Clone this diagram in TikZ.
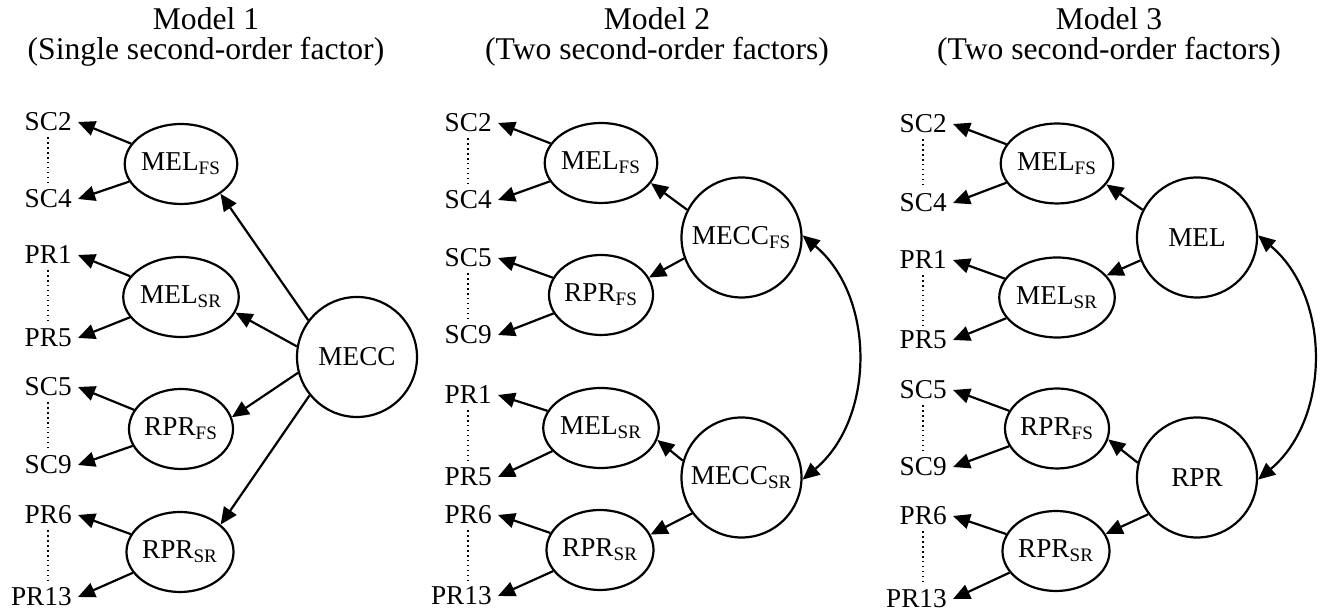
\documentclass[tikz,border=0pt]{standalone}
\usepackage{fontspec}
\setmainfont{Liberation Serif}
\usepackage{tikz}
\usetikzlibrary{shapes.geometric, arrows.meta, positioning, calc}
\tikzset{
  firstnode/.style={ellipse,draw,line width=1.25pt,inner sep=0pt,minimum width=1.76cm,minimum height=1.6cm,font=\fontsize{15.5}{18}\selectfont},
  secondnode/.style={circle,draw,line width=1.25pt,inner sep=0pt,minimum size=2.4cm,font=\fontsize{15.5}{18}\selectfont},
  itemnode/.style={anchor=east,inner sep=0.12cm,font=\fontsize{15.5}{18}\selectfont},
  titlenode/.style={align=center,font=\fontsize{18}{17}\selectfont},
  arr/.style={-{Triangle[length=0.34cm,width=0.3cm]},line width=1.25pt},
  corarr/.style={{Triangle[length=0.34cm,width=0.3cm]}-{Triangle[length=0.34cm,width=0.3cm]},line width=1.25pt},
  dotline/.style={dotted,line width=0.8pt}
}
\begin{document}
\begin{tikzpicture}
  \useasboundingbox (0,0) rectangle (26.44,12.28);
  % Model 1
  \node[titlenode] (t1) at (4.12,11.54) {Model 1\\(Single second-order factor)};
  \node[itemnode] (a1) at (1.56,9.84) {SC2}; \node[itemnode] (a2) at (1.56,8.30) {SC4};
  \node[itemnode] (b1) at (1.56,7.18) {PR1}; \node[itemnode] (b2) at (1.56,5.52) {PR5};
  \node[itemnode] (c1) at (1.56,4.54) {SC5}; \node[itemnode] (c2) at (1.56,2.98) {SC9};
  \node[itemnode] (d1) at (1.56,1.98) {PR6}; \node[itemnode] (d2) at (1.56,0.34) {PR13};
  \node[firstnode] (melfsA) at (3.62,9.00) {MEL\textsubscript{FS}};
  \node[firstnode] (melsrA) at (3.62,6.34) {MEL\textsubscript{SR}};
  \node[firstnode] (rprfsA) at (3.62,3.70) {RPR\textsubscript{FS}};
  \node[firstnode] (rprsrA) at (3.60,1.24) {RPR\textsubscript{SR}};
  \node[secondnode] (mecc) at (7.14,5.14) {MECC};
  \draw[arr] (melfsA) -- (a1.east); \draw[arr] (melfsA) -- (a2.east);
  \draw[arr] (melsrA) -- (b1.east); \draw[arr] (melsrA) -- (b2.east);
  \draw[arr] (rprfsA) -- (c1.east); \draw[arr] (rprfsA) -- (c2.east);
  \draw[arr] (rprsrA) -- (d1.east); \draw[arr] (rprsrA) -- (d2.east);
  \draw[dotline] (a1.south) -- (a1.south |- a2.north); \draw[dotline] (b1.south) -- (b1.south |- b2.north);
  \draw[dotline] (c1.south) -- (c1.south |- c2.north); \draw[dotline] (d1.south) -- (d1.south |- d2.north);
  \draw[arr] (mecc.143) -- (melfsA.-37); \draw[arr] (mecc.170) -- (melsrA.-16);
  \draw[arr] (mecc.195) -- (rprfsA.13); \draw[arr] (mecc.219) -- (rprsrA.34);
  % Model 2
  \node[titlenode] (t2) at (13.14,11.54) {Model 2\\(Two second-order factors)};
  \node[itemnode] (e1) at (9.96,9.82) {SC2}; \node[itemnode] (e2) at (9.96,8.28) {SC4};
  \node[itemnode] (f1) at (9.96,7.12) {SC5}; \node[itemnode] (f2) at (9.96,5.58) {SC9};
  \node[itemnode] (g1) at (9.96,4.38) {PR1}; \node[itemnode] (g2) at (9.96,2.74) {PR5};
  \node[itemnode] (h1) at (9.96,1.98) {PR6}; \node[itemnode] (h2) at (9.96,0.36) {PR13};
  \node[firstnode] (melfsB) at (12.02,9.02) {MEL\textsubscript{FS}};
  \node[firstnode] (rprfsB) at (12.02,6.38) {RPR\textsubscript{FS}};
  \node[firstnode] (melsrB) at (12.02,3.72) {MEL\textsubscript{SR}};
  \node[firstnode] (rprsrB) at (12.00,1.28) {RPR\textsubscript{SR}};
  \node[secondnode] (meccfs) at (14.83,7.53) {MECC\textsubscript{FS}};
  \node[secondnode] (meccsr) at (14.83,2.73) {MECC\textsubscript{SR}};
  \draw[arr] (melfsB) -- (e1.east); \draw[arr] (melfsB) -- (e2.east);
  \draw[arr] (rprfsB) -- (f1.east); \draw[arr] (rprfsB) -- (f2.east);
  \draw[arr] (melsrB) -- (g1.east); \draw[arr] (melsrB) -- (g2.east);
  \draw[arr] (rprsrB) -- (h1.east); \draw[arr] (rprsrB) -- (h2.east);
  \draw[dotline] (e1.south) -- (e1.south |- e2.north); \draw[dotline] (f1.south) -- (f1.south |- f2.north);
  \draw[dotline] (g1.south) -- (g1.south |- g2.north); \draw[dotline] (h1.south) -- (h1.south |- h2.north);
  \draw[arr] (meccfs.153) -- (melfsB.-22); \draw[arr] (meccfs.200) -- (rprfsB.20);
  \draw[arr] (meccsr.164) -- (melsrB.-12); \draw[arr] (meccsr.216) -- (rprsrB.17);
  \draw[corarr] (meccfs.2) to[out=-40,in=40] (meccsr.-2);
  % Model 3
  \node[titlenode] (t3) at (22.18,11.54) {Model 3\\(Two second-order factors)};
  \node[itemnode] (i1) at (19.06,9.80) {SC2}; \node[itemnode] (i2) at (19.06,8.22) {SC4};
  \node[itemnode] (j1) at (19.06,7.08) {PR1}; \node[itemnode] (j2) at (19.06,5.48) {PR5};
  \node[itemnode] (k1) at (19.06,4.48) {SC5}; \node[itemnode] (k2) at (19.06,2.94) {SC9};
  \node[itemnode] (l1) at (19.06,1.96) {PR6}; \node[itemnode] (l2) at (19.06,0.30) {PR13};
  \node[firstnode] (melfsC) at (21.14,9.01) {MEL\textsubscript{FS}};
  \node[firstnode] (melsrC) at (21.14,6.33) {MEL\textsubscript{SR}};
  \node[firstnode] (rprfsC) at (21.14,3.71) {RPR\textsubscript{FS}};
  \node[firstnode] (rprsrC) at (21.12,1.26) {RPR\textsubscript{SR}};
  \node[secondnode] (mel) at (23.94,7.53) {MEL};
  \node[secondnode] (rpr) at (23.94,2.73) {RPR};
  \draw[arr] (melfsC) -- (i1.east); \draw[arr] (melfsC) -- (i2.east);
  \draw[arr] (melsrC) -- (j1.east); \draw[arr] (melsrC) -- (j2.east);
  \draw[arr] (rprfsC) -- (k1.east); \draw[arr] (rprfsC) -- (k2.east);
  \draw[arr] (rprsrC) -- (l1.east); \draw[arr] (rprsrC) -- (l2.east);
  \draw[dotline] (i1.south) -- (i1.south |- i2.north); \draw[dotline] (j1.south) -- (j1.south |- j2.north);
  \draw[dotline] (k1.south) -- (k1.south |- k2.north); \draw[dotline] (l1.south) -- (l1.south |- l2.north);
  \draw[arr] (mel.153) -- (melfsC.-23); \draw[arr] (mel.202) -- (melsrC.24);
  \draw[arr] (rpr.166) -- (rprfsC.-12); \draw[arr] (rpr.217) -- (rprsrC.19);
  \draw[corarr] (mel.2) to[out=-40,in=40] (rpr.-2);
\end{tikzpicture}
\end{document}
